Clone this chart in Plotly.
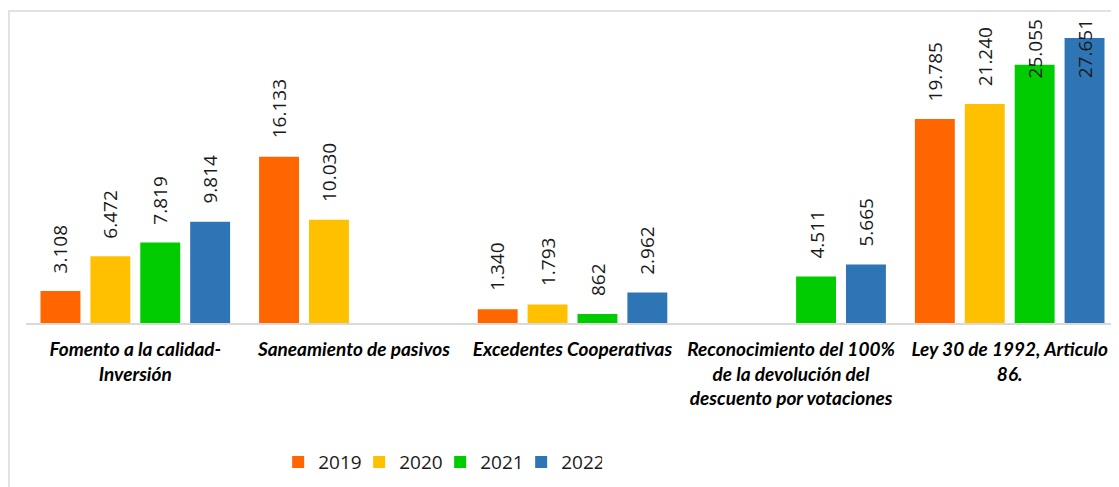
import plotly.graph_objects as go

categories = [
    "Fomento a la calidad-<br>Inversión",
    "Saneamiento de pasivos",
    "Excedentes Cooperativas",
    "Reconocimiento del 100%<br>de la devolución del<br>descuento por votaciones",
    "Ley 30 de 1992, Articulo<br>86.",
]
years = ["2019", "2020", "2021", "2022"]
v2019 = [3108, 16133, 1340, None, 19785]
v2020 = [6472, 10030, 1793, None, 21240]
v2021 = [7819, None, 862, 4511, 25055]
v2022 = [9814, None, 2962, 5665, 27651]
series = [v2019, v2020, v2021, v2022]
colors = ["#FF6600", "#FFC000", "#00CC00", "#2E75B6"]

BARGAP = 0.087
GROUPGAP = 0.2
YMAX = 29400
LABEL_CAP = 22000

fig = go.Figure()
for name, vals, col in zip(years, series, colors):
    fig.add_trace(go.Bar(
        x=list(range(len(categories))), y=vals, name=name,
        marker=dict(color=col, line=dict(width=0)),
    ))

def fmt(v):
    return f"{v:,}".replace(",", ".")

annotations = []
slot = (1 - BARGAP) / len(series)
for i, vals in enumerate(series):
    for c, v in enumerate(vals):
        if v is None:
            continue
        annotations.append(dict(
            x=c + (i - (len(series) - 1) / 2) * slot,
            y=min(v, LABEL_CAP), xref="x", yref="y",
            text=fmt(v), showarrow=False, textangle=-90,
            yanchor="bottom", xanchor="center", yshift=16,
            font=dict(family="Open Sans", size=19, color="#1a1a1a"),
        ))

fig.update_layout(
    width=1111, height=479,
    margin=dict(l=18, r=0, t=12, b=164),
    paper_bgcolor="white", plot_bgcolor="white",
    barmode="group", bargap=BARGAP, bargroupgap=GROUPGAP,
    showlegend=True,
    legend=dict(orientation="h", x=0.2307, xanchor="left",
                yref="container", y=0.052, yanchor="middle",
                font=dict(family="Open Sans", size=19, color="#1a1a1a"),
                itemwidth=30, traceorder="normal",
                entrywidth=36, entrywidthmode="pixels"),
    annotations=annotations,
    shapes=[dict(type="rect", xref="paper", yref="paper",
                 x0=-0.0156, x1=1.05, y0=-0.6, y1=1.0297,
                 line=dict(color="#d9d9d9", width=1.5), layer="below")],
)
fig.update_xaxes(
    tickmode="array", tickvals=list(range(len(categories))), ticktext=categories,
    range=[-0.5, len(categories) - 0.5],
    showline=True, linecolor="#d9d9d9", linewidth=2,
    ticks="", ticklabelstandoff=8,
    tickfont=dict(family="Lato", size=19, color="black", weight="bold", style="italic"),
    showgrid=False, zeroline=False,
)
fig.update_yaxes(range=[0, YMAX], visible=False, showgrid=False, zeroline=False)

fig.write_html("out.html")
